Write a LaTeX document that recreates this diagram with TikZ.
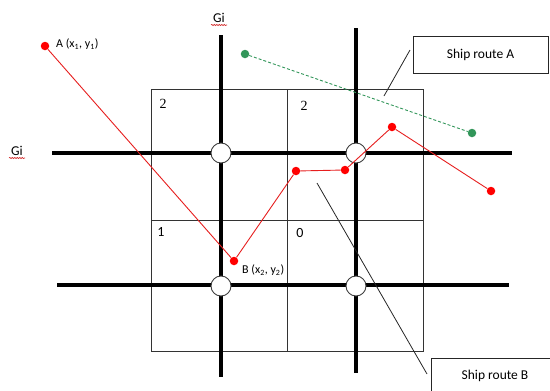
\documentclass[tikz,border=0pt]{standalone}
\usepackage{fontspec}
\setmainfont{Carlito}
\newfontfamily\serifnum{Liberation Serif}
\usetikzlibrary{decorations.pathmorphing}
\definecolor{routered}{RGB}{230,30,30}
\definecolor{routegreen}{RGB}{50,150,90}
\definecolor{squig}{RGB}{210,40,40}
\tikzset{
  road/.style={line width=4.2pt, black},
  cellline/.style={line width=0.8pt, black!80},
  junction/.style={circle, draw=black!75, fill=white, line width=0.9pt, minimum size=20pt, inner sep=0pt},
  reddot/.style={circle, fill=red, minimum size=8.5pt, inner sep=0pt},
  greendot/.style={circle, fill=routegreen, minimum size=8.5pt, inner sep=0pt},
  redroute/.style={routered, line width=0.9pt},
  greenroute/.style={routegreen, line width=0.9pt, dash pattern=on 3pt off 2pt},
  callout/.style={draw=black!85, line width=0.8pt, fill=white, font=\fontsize{13.5}{15}\selectfont, inner sep=0pt},
  leader/.style={black!85, line width=0.8pt},
  lbl/.style={font=\fontsize{12}{14}\selectfont, inner sep=0pt},
  cellnum/.style={font=\fontsize{14}{16}\selectfont, inner sep=0pt},
  gilbl/.style={font=\fontsize{13.5}{15}\selectfont, inner sep=0pt},
  squiggle/.style={squig, line width=0.6pt, decorate, decoration={snake, amplitude=0.6pt, segment length=2.5pt}}
}
\begin{document}
\begin{tikzpicture}[x=1pt, y=-1pt]
\useasboundingbox (0,0) rectangle (550,391);
% grid cells
\draw[cellline] (151,89) rectangle (423,351);
\draw[cellline] (287,89) -- (287,351);
\draw[cellline] (151,220) -- (423,220);
% roads
\coordinate (v1t) at (221,35); \coordinate (v1b) at (221,377);
\coordinate (v2t) at (356,28); \coordinate (v2b) at (356,373);
\coordinate (h1l) at (52,153); \coordinate (h1r) at (512,153);
\coordinate (h2l) at (57,285); \coordinate (h2r) at (509,285);
\draw[road] (v1t) -- (v1b);
\draw[road] (v2t) -- (v2b);
\draw[road] (h1l) -- (h1r);
\draw[road] (h2l) -- (h2r);
\node[junction] (j1) at (221,153) {};
\node[junction] (j2) at (356,153) {};
\node[junction] (j3) at (221,286) {};
\node[junction] (j4) at (356,286) {};
% cell numbers
\node[cellnum] (n1) at (163,104) {\serifnum 2};
\node[cellnum] (n2) at (304,106) {\serifnum 2};
\node[cellnum] (n3) at (161,232) {1};
\node[cellnum] (n4) at (300,233) {0};
% Gi labels
\node[gilbl] (gitop) at (219,18) {Gi};
\draw[squiggle] (211,25) -- (227,25);
\node[gilbl] (gileft) at (17,151) {Gi};
\draw[squiggle] (9,158) -- (25,158);
% green route
\node[greendot] (g1) at (245,54) {};
\node[greendot] (g2) at (472,133) {};
\draw[greenroute] (g1) -- (g2);
% red route
\node[reddot] (A) at (45,46) {};
\node[reddot] (B) at (234,261) {};
\node[reddot] (r3) at (296,171) {};
\node[reddot] (r4) at (345,170) {};
\node[reddot] (r5) at (392,127) {};
\node[reddot] (r6) at (491,191) {};
\draw[redroute] (A) -- (B) -- (r3) -- (r4) -- (r5) -- (r6);
\node[lbl, anchor=west] (Alab) at (56,44) {A (x\textsubscript{1}, y\textsubscript{1})};
\node[lbl, anchor=west] (Blab) at (242,270) {B (x\textsubscript{2}, y\textsubscript{2})};
% callouts
\node[callout, minimum width=135pt, minimum height=37pt] (boxA) at (480.5,54.5) {Ship route A};
\coordinate (la1) at (410,50); \coordinate (la2) at (384,96);
\draw[leader] (la1) -- (la2);
\node[callout, minimum width=140pt, minimum height=40pt, anchor=north west] (boxB) at (431,358) {};
\node[gilbl] (boxBt) at (495,376) {Ship route B};
\coordinate (lb1) at (317,183); \coordinate (lb2) at (427,374);
\draw[leader] (lb1) -- (lb2);
\end{tikzpicture}
\end{document}
